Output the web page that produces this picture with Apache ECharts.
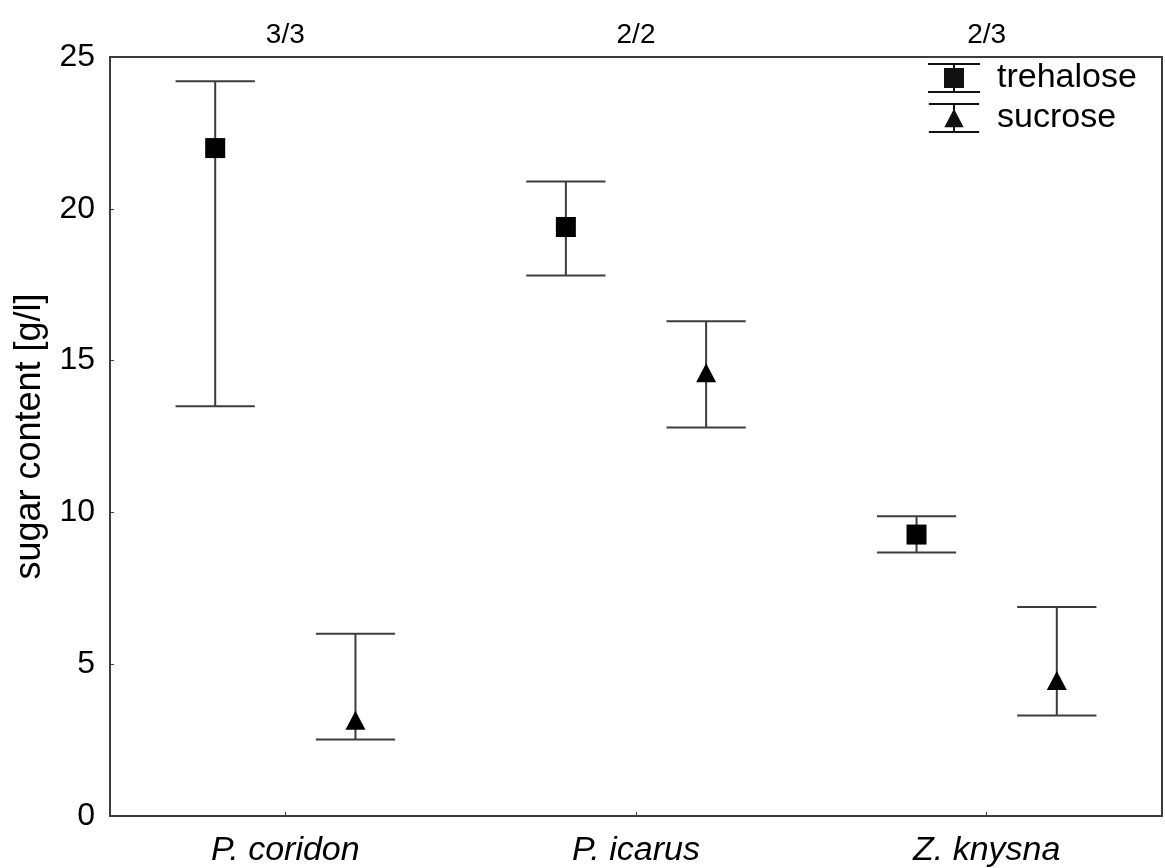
<!DOCTYPE html>
<html>
<head>
<meta charset="utf-8">
<title>Sugar content</title>
<script src="https://cdn.jsdelivr.net/npm/echarts@6/dist/echarts.min.js"></script>
<style>
  html, body { margin: 0; padding: 0; background: #fff; }
  #chart { width: 1165px; height: 868px; }
</style>
</head>
<body>
<div id="chart"></div>
<script>
// Species and the number of samples per species shown above the plot
const categories = ['P. coridon', 'P. icarus', 'Z. knysna'];
const sampleCounts = ['3/3', '2/2', '2/3'];

// Trehalose: mean with lower / upper whisker
const trehaloseMean = [22.0, 19.4, 9.27];
const trehaloseLow = [13.5, 17.8, 8.68];
const trehaloseHigh = [24.2, 20.9, 9.87];

// Sucrose: mean with lower / upper whisker
const sucroseMean = [3.15, 14.6, 4.46];
const sucroseLow = [2.52, 12.8, 3.31];
const sucroseHigh = [6.0, 16.3, 6.88];

const yTicks = { min: 0, max: 25, interval: 5 };

const FONT = "'Liberation Sans', Arial, sans-serif";
const LINE_COLOR = '#3c3c3c';
const MARK_COLOR = '#000';

function buildRows(means, lows, highs) {
  return categories.map((c, i) => [i, means[i], lows[i], highs[i]]);
}

// Draws one whisker (stem + caps) plus the mean marker, shifted inside the category band
function errorBarRenderer(shape, bandShift) {
  return function (params, api) {
    const idx = api.value(0);
    const band = api.size([1, 0])[0];
    const mid = api.coord([idx, api.value(1)]);
    const x = mid[0] + bandShift * band;
    const yMean = mid[1];
    const yLow = api.coord([idx, api.value(2)])[1];
    const yHigh = api.coord([idx, api.value(3)])[1];
    const capHalf = band * 0.113;
    const lineStyle = { stroke: LINE_COLOR, lineWidth: 2 };
    const children = [
      { type: 'line', shape: { x1: x, y1: yLow, x2: x, y2: yHigh }, style: lineStyle },
      { type: 'line', shape: { x1: x - capHalf, y1: yLow, x2: x + capHalf, y2: yLow }, style: lineStyle },
      { type: 'line', shape: { x1: x - capHalf, y1: yHigh, x2: x + capHalf, y2: yHigh }, style: lineStyle }
    ];
    const s = 20;
    if (shape === 'square') {
      children.push({ type: 'rect', shape: { x: x - s / 2, y: yMean - s / 2, width: s, height: s }, style: { fill: MARK_COLOR } });
    } else {
      const h = 19;
      children.push({
        type: 'polygon',
        shape: { points: [[x, yMean - h / 2], [x - s / 2, yMean + h / 2], [x + s / 2, yMean + h / 2]] },
        style: { fill: MARK_COLOR }
      });
    }
    return { type: 'group', children: children };
  };
}

// Legend icons: whisker with caps and the marker, built from filled rectangles
const squareIcon = 'path://M0 0H52V2H0Z M0 28H52V30H0Z M25 0H27V30H25Z M16 5H36V25H16Z';
const triangleIcon = 'path://M0 0H52V2H0Z M0 29H52V31H0Z M25 0H27V31H25Z M16 25L26 6L36 25Z';

const chart = echarts.init(document.getElementById('chart'), null, { renderer: 'canvas' });

chart.setOption({
  backgroundColor: '#fff',
  animation: false,
  textStyle: { fontFamily: FONT },
  grid: {
    left: 110, top: 57, right: 3, bottom: 51,
    show: true, borderColor: LINE_COLOR, borderWidth: 2, backgroundColor: 'transparent'
  },
  legend: {
    orient: 'vertical',
    left: 928, top: 61,
    padding: 0,
    itemWidth: 52, itemHeight: 30, itemGap: 6,
    textStyle: { fontSize: 34, lineHeight: 30, color: '#000', fontFamily: FONT, padding: [0, 0, 0, 12] },
    data: [
      { name: 'trehalose', icon: squareIcon, itemStyle: { color: '#111' } },
      { name: 'sucrose', icon: triangleIcon, itemStyle: { color: '#111' } }
    ]
  },
  xAxis: [
    {
      type: 'category',
      data: categories,
      position: 'bottom',
      boundaryGap: true,
      axisLine: { show: true, lineStyle: { color: LINE_COLOR, width: 2 } },
      axisTick: { show: true, inside: true, alignWithLabel: true, length: 4, lineStyle: { color: LINE_COLOR } },
      axisLabel: { fontSize: 34, fontStyle: 'italic', color: '#000', margin: 18, fontFamily: FONT },
      splitLine: { show: false }
    },
    {
      type: 'category',
      data: sampleCounts,
      position: 'top',
      boundaryGap: true,
      axisLine: { show: false },
      axisTick: { show: false },
      axisLabel: { fontSize: 28, color: '#000', margin: 8, fontFamily: FONT },
      splitLine: { show: false }
    }
  ],
  yAxis: {
    type: 'value',
    min: yTicks.min, max: yTicks.max, interval: yTicks.interval,
    name: 'sugar content [g/l]',
    nameLocation: 'middle',
    nameRotate: 90,
    nameGap: 62,
    nameTextStyle: { fontSize: 36, color: '#000', fontFamily: FONT },
    axisLine: { show: true, lineStyle: { color: LINE_COLOR, width: 2 } },
    axisTick: { show: true, inside: true, length: 4, lineStyle: { color: LINE_COLOR } },
    axisLabel: { fontSize: 32, color: '#000', margin: 15, fontFamily: FONT },
    splitLine: { show: false }
  },
  series: [
    {
      name: 'trehalose',
      type: 'custom',
      xAxisIndex: 0,
      renderItem: errorBarRenderer('square', -0.2),
      encode: { x: 0, y: [1, 2, 3] },
      itemStyle: { color: '#111' },
      data: buildRows(trehaloseMean, trehaloseLow, trehaloseHigh),
      z: 3
    },
    {
      name: 'sucrose',
      type: 'custom',
      xAxisIndex: 0,
      renderItem: errorBarRenderer('triangle', 0.2),
      encode: { x: 0, y: [1, 2, 3] },
      itemStyle: { color: '#111' },
      data: buildRows(sucroseMean, sucroseLow, sucroseHigh),
      z: 3
    }
  ]
});
</script>
</body>
</html>
